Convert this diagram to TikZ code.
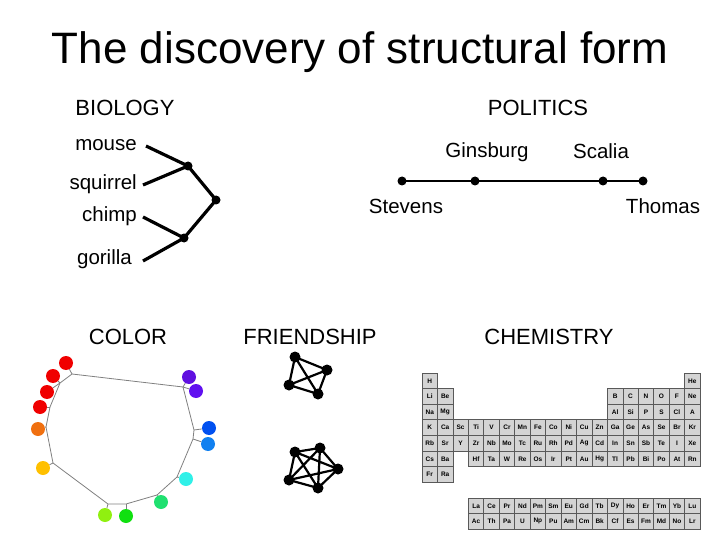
\documentclass[tikz,border=0pt]{standalone}
\usepackage{fontspec}
\setmainfont{Liberation Sans}
\begin{document}
\begin{tikzpicture}[x=1pt,y=-1pt,
  lbl/.style={font=\fontsize{20.5}{22}\selectfont,inner sep=0pt},
  hd/.style={font=\fontsize{22}{24}\selectfont,inner sep=0pt},
  dot/.style={circle,fill=black,inner sep=0pt,minimum size=9pt},
  edge/.style={line width=3.2pt},
  cdot/.style={circle,inner sep=0pt,minimum size=14pt},
  fdot/.style={circle,fill=black,inner sep=0pt,minimum size=11pt},
  fedge/.style={line width=2.2pt},
  cell/.style={draw=black!65,fill=black!17,line width=0.7pt,minimum width=15.45pt,minimum height=15.6pt,inner sep=0pt,font=\fontsize{6.5}{7}\selectfont\bfseries}]
\useasboundingbox (0,0) rectangle (720,540);
\node[font=\fontsize{44}{48}\selectfont] (title) at (360,52) {The discovery of structural form};
% headings
\node[hd] (hbio) at (125,108) {BIOLOGY};
\node[hd] (hpol) at (538,108) {POLITICS};
\node[hd] (hcol) at (128,337) {COLOR};
\node[hd] (hfri) at (310,337) {FRIENDSHIP};
\node[hd] (hche) at (549,337) {CHEMISTRY};
% biology
\node[lbl,anchor=east] (mouse) at (137,145) {mouse};
\node[lbl,anchor=east] (squirrel) at (137,184) {squirrel};
\node[lbl,anchor=east] (chimp) at (137,216) {chimp};
\node[lbl,anchor=east] (gorilla) at (132,259) {gorilla};
\coordinate (m0) at (146,146);
\coordinate (s0) at (143,185);
\coordinate (c0) at (143,217);
\coordinate (g0) at (143,261);
\node[dot] (b1) at (188,166) {};
\node[dot] (b2) at (216,200) {};
\node[dot] (b3) at (184,238) {};
\draw[edge] (m0) -- (b1.center) (s0) -- (b1.center) (b1.center) -- (b2.center) -- (b3.center) (c0) -- (b3.center) (g0) -- (b3.center);
% politics
\node[dot] (p1) at (402,181) {};
\node[dot] (p2) at (475,181) {};
\node[dot] (p3) at (603,181) {};
\node[dot] (p4) at (643,181) {};
\draw[edge,line width=2.8pt] (p1.center) -- (p2.center) -- (p3.center) -- (p4.center);
\node[lbl] (gins) at (487,152) {Ginsburg};
\node[lbl] (scal) at (601,151) {Scalia};
\node[lbl] (stev) at (406,206) {Stevens};
\node[lbl] (thom) at (663,206) {Thomas};
% color
\definecolor{c1}{HTML}{F00000}
\definecolor{c5}{HTML}{F07010}\definecolor{c6}{HTML}{FFC000}
\definecolor{c7}{HTML}{90F010}\definecolor{c8}{HTML}{10E010}
\definecolor{c9}{HTML}{20E070}\definecolor{c10}{HTML}{30F0E8}
\definecolor{c11}{HTML}{1080F0}\definecolor{c12}{HTML}{0050F0}
\definecolor{c13}{HTML}{6010E0}\definecolor{c14}{HTML}{6010F0}
\foreach \n/\x/\y in {a/72/374,b/183/387,c/194/430,d/193/439,e/177/477,f/157/495,g/126/504,h/108/504,i/53/463,j/46/427,k/50/407,l/60/383}
  \coordinate (v\n) at (\x,\y);
\draw[gray,line width=0.8pt] (va)--(vb)--(vc)--(vd)--(ve)--(vf)--(vg)--(vh)--(vi)--(vj)--(vk)--(vl)--cycle;
\foreach \n/\x/\y/\c/\v in {1/66/363/c1/a,2/53/376/c1/l,3/47/392/c1/l,4/40/407/c1/k,5/38/429/c5/j,6/43/468/c6/i,7/105/515/c7/h,8/126/516/c8/g,9/161/502/c9/f,10/186/479/c10/e,11/209/428/c12/c,12/208/444/c11/d,13/189/377/c13/b,14/196/391/c14/b}{
  \node[cdot,fill=\c] (cd\n) at (\x,\y) {};
  \draw[gray,line width=0.8pt] (v\v) -- (cd\n);
}
% friendship
\node[fdot] (fa) at (295,357) {};
\node[fdot] (fb) at (327,370) {};
\node[fdot] (fc) at (289,385) {};
\node[fdot] (fd) at (318,394) {};
\draw[fedge] (fa.center)--(fb.center)--(fd.center)--(fc.center)--cycle (fa.center)--(fd.center) (fb.center)--(fc.center);
\node[fdot] (ga) at (295,452) {};
\node[fdot] (gb) at (320,448) {};
\node[fdot] (gc) at (338,469) {};
\node[fdot] (gd) at (318,488) {};
\node[fdot] (ge) at (289,480) {};
\draw[fedge] (ga.center)--(gb.center)--(gc.center)--(gd.center)--(ge.center)--cycle
  (ga.center)--(gc.center) (ga.center)--(gd.center) (gb.center)--(gd.center) (gb.center)--(ge.center) (gc.center)--(ge.center);
% chemistry
\foreach \r/\c/\s in {1/1/H,1/18/He,2/1/Li,2/2/Be,2/13/B,2/14/C,2/15/N,2/16/O,2/17/F,2/18/Ne,
 3/1/Na,3/2/Mg,3/13/Al,3/14/Si,3/15/P,3/16/S,3/17/Cl,3/18/A,
 4/1/K,4/2/Ca,4/3/Sc,4/4/Ti,4/5/V,4/6/Cr,4/7/Mn,4/8/Fe,4/9/Co,4/10/Ni,4/11/Cu,4/12/Zn,4/13/Ga,4/14/Ge,4/15/As,4/16/Se,4/17/Br,4/18/Kr,
 5/1/Rb,5/2/Sr,5/3/Y,5/4/Zr,5/5/Nb,5/6/Mo,5/7/Tc,5/8/Ru,5/9/Rh,5/10/Pd,5/11/Ag,5/12/Cd,5/13/In,5/14/Sn,5/15/Sb,5/16/Te,5/17/I,5/18/Xe,
 6/1/Cs,6/2/Ba,6/4/Hf,6/5/Ta,6/6/W,6/7/Re,6/8/Os,6/9/Ir,6/10/Pt,6/11/Au,6/12/Hg,6/13/Tl,6/14/Pb,6/15/Bi,6/16/Po,6/17/At,6/18/Rn,
 7/1/Fr,7/2/Ra}
  \node[cell] (e\r-\c) at ({422+15.45*(\c-0.5)},{373+15.6*(\r-0.5)}) {\s};
\foreach \s [count=\i] in {La,Ce,Pr,Nd,Pm,Sm,Eu,Gd,Tb,Dy,Ho,Er,Tm,Yb,Lu}
  \node[cell] (la\i) at ({422+15.45*(\i+2.5)},505.8) {\s};
\foreach \s [count=\i] in {Ac,Th,Pa,U,Np,Pu,Am,Cm,Bk,Cf,Es,Fm,Md,No,Lr}
  \node[cell] (ac\i) at ({422+15.45*(\i+2.5)},521.4) {\s};
\end{tikzpicture}
\end{document}
